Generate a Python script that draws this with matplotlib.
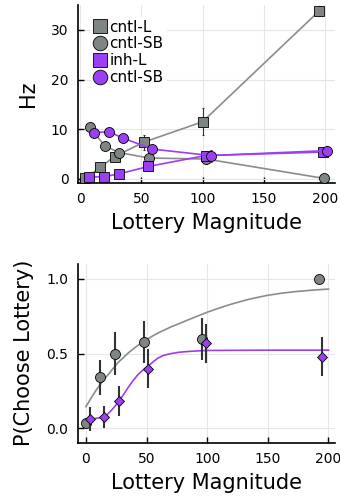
import matplotlib
matplotlib.use("Agg")
import matplotlib.pyplot as plt
from matplotlib.lines import Line2D

plt.rcParams['font.family'] = ['DejaVu Sans']

GRAY = "#7f8584"
GRAY_LINE = "#8a8d8c"
PURPLE = "#9b3ff2"
ERR = "#333333"

# ---- Top panel data (firing rate, Hz) ----
cntlL_x = [4, 16, 28, 52, 100, 195]
cntlL_y = [0.1, 2.3, 4.5, 7.4, 11.5, 33.7]
cntlL_e = [0.3, 0.5, 0.8, 1.5, 2.7, 1.0]

cntlSB_x = [8, 20, 32, 56, 103, 199.5]
cntlSB_y = [10.4, 6.6, 5.3, 4.2, 4.0, 0.1]
cntlSB_e = [0.4, 0.6, 0.6, 0.8, 1.0, 0.3]

inhL_x = [7, 19, 31.5, 55.5, 102.5, 198.5]
inhL_y = [0.35, 0.45, 1.0, 2.5, 4.7, 5.4]
inhL_e = [0.2, 0.2, 0.3, 0.5, 0.9, 1.0]

inhSB_x = [11, 23.3, 35, 59, 106.5, 202]
inhSB_y = [9.3, 9.5, 8.2, 6.0, 4.7, 5.7]
inhSB_e = [0.4, 0.4, 0.6, 0.6, 1.2, 1.0]

legend_labels = ["cntl-L", "cntl-SB", "inh-L", "cntl-SB"]

# ---- Bottom panel data (P(choose lottery)) ----
cntl_px = [0, 12, 24, 48, 96, 192]
cntl_py = [0.033, 0.34, 0.50, 0.58, 0.60, 1.0]
cntl_pe = [0.03, 0.12, 0.145, 0.14, 0.14, 0.0]

inh_px = [3, 15, 27, 51, 99, 195]
inh_py = [0.06, 0.074, 0.18, 0.40, 0.57, 0.48]
inh_pe = [0.08, 0.075, 0.10, 0.13, 0.13, 0.13]

# fitted curves
cntl_fit_x = [0, 3, 6, 9, 12.5, 16, 20, 26.5, 35, 42, 48, 55, 62, 70, 77.5, 88, 100, 110, 119, 134, 149, 162, 174, 187, 200]
cntl_fit_y = [0.145, 0.185, 0.225, 0.262, 0.30, 0.337, 0.376, 0.44, 0.505, 0.55, 0.583, 0.618, 0.648, 0.678, 0.703, 0.738, 0.777, 0.805, 0.829, 0.863, 0.889, 0.905, 0.916, 0.925, 0.932]

inh_fit_x = [0, 3, 7, 11, 15.4, 18, 21, 24, 27, 31, 34.6, 39, 43, 47, 50.5, 55, 59.4, 64, 70, 77, 84, 92, 100, 150, 200]
inh_fit_y = [0.052, 0.058, 0.064, 0.070, 0.080, 0.095, 0.12, 0.148, 0.18, 0.225, 0.27, 0.32, 0.36, 0.39, 0.41, 0.442, 0.47, 0.488, 0.50, 0.509, 0.514, 0.518, 0.521, 0.523, 0.523]

fig = plt.figure(figsize=(3.4, 4.99), dpi=100)
ax1 = fig.add_axes([0.230, 0.634, 0.755, 0.356])
ax2 = fig.add_axes([0.230, 0.113, 0.755, 0.358])

def style(ax):
    for s in ["top", "right"]:
        ax.spines[s].set_visible(False)
    for s in ["left", "bottom"]:
        ax.spines[s].set_linewidth(1.2)
    ax.grid(True, color="#e6e6e6", linewidth=0.8)
    ax.set_axisbelow(True)
    ax.tick_params(direction="in", length=4, width=1.0, labelsize=10, pad=7)

style(ax1)
style(ax2)

ms = 7.2
series = [
    (cntlL_x, cntlL_y, cntlL_e, GRAY, "s", GRAY_LINE),
    (cntlSB_x, cntlSB_y, cntlSB_e, GRAY, "o", GRAY_LINE),
    (inhL_x, inhL_y, inhL_e, PURPLE, "s", PURPLE),
    (inhSB_x, inhSB_y, inhSB_e, PURPLE, "o", PURPLE),
]
z = 3
for x, y, e, c, m, lc in series:
    ax1.plot(x, y, color=lc, lw=1.2, zorder=z)
    ax1.errorbar(x, y, yerr=e, fmt="none", ecolor=ERR, elinewidth=0.8, capsize=1.0, capthick=0.8, zorder=z + 0.1)
    ax1.plot(x, y, linestyle="none", marker=m, markersize=ms, markerfacecolor=c,
             markeredgecolor="black", markeredgewidth=0.6, zorder=z + 0.2)
    z += 1

ax1.set_xlim(-1.8, 208.3)
ax1.set_ylim(-0.75, 35.0)
ax1.set_xticks([0, 50, 100, 150, 200])
ax1.set_yticks([0, 10, 20, 30])
ax1.set_xlabel("Lottery Magnitude", fontsize=15, labelpad=5)
ax1.set_ylabel("Hz", fontsize=15, labelpad=9)

handles = [
    Line2D([], [], linestyle="none", marker=m, markersize=10.5, markerfacecolor=c,
           markeredgecolor="black", markeredgewidth=0.6)
    for (_, _, _, c, m, _) in series
]
leg = ax1.legend(handles, legend_labels, loc="upper left", bbox_to_anchor=(0.05, 0.935),
                 fontsize=11, frameon=True, framealpha=1, facecolor="white", edgecolor="none",
                 handlelength=0.8, handletextpad=0.2, labelspacing=0.12, borderpad=0.2,
                 borderaxespad=0.0)
leg.set_zorder(10)

# bottom panel
ax2.plot(cntl_fit_x, cntl_fit_y, color=GRAY_LINE, lw=1.2, zorder=3)
ax2.plot(inh_fit_x, inh_fit_y, color=PURPLE, lw=1.2, zorder=3)
ax2.errorbar(cntl_px, cntl_py, yerr=cntl_pe, fmt="none", ecolor=ERR, elinewidth=1.5, zorder=4)
ax2.plot(cntl_px, cntl_py, linestyle="none", marker="o", markersize=7.2, markerfacecolor=GRAY,
         markeredgecolor="black", markeredgewidth=0.6, zorder=5)
ax2.errorbar(inh_px, inh_py, yerr=inh_pe, fmt="none", ecolor=ERR, elinewidth=1.5, zorder=6)
ax2.plot(inh_px, inh_py, linestyle="none", marker="D", markersize=5.2, markerfacecolor=PURPLE,
         markeredgecolor="black", markeredgewidth=0.6, zorder=7)

ax2.set_xlim(-6.35, 205.3)
ax2.set_ylim(-0.096, 1.10)
ax2.set_xticks([0, 50, 100, 150, 200])
ax2.set_yticks([0.0, 0.5, 1.0])
ax2.set_yticklabels(["0.0", "0.5", "1.0"])
ax2.set_xlabel("Lottery Magnitude", fontsize=15, labelpad=5)
ax2.set_ylabel("P(Choose Lottery)", fontsize=15, labelpad=9)

fig.savefig("out.png", dpi=100)
